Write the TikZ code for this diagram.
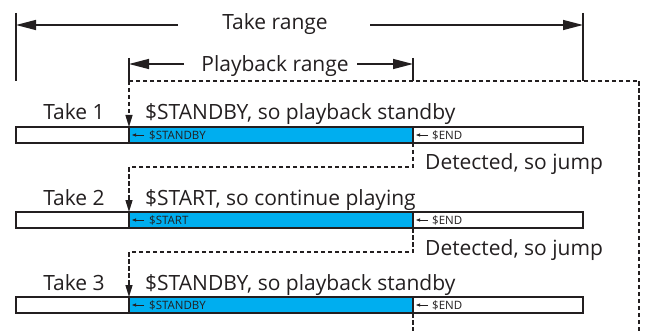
\documentclass[tikz,border=0pt]{standalone}
\usepackage{fontspec}
\setmainfont{Open Sans}
\usetikzlibrary{arrows.meta}
\definecolor{ink}{HTML}{231F20}
\definecolor{cyanbar}{HTML}{00AEEF}
\tikzset{
  big/.style={font=\fontsize{21}{24}\selectfont, text=ink, inner sep=0pt},
  small/.style={font=\fontsize{11.5}{13}\selectfont, text=ink, inner sep=0pt},
  rangearrow/.style={draw=ink, line width=1.4pt, -{Triangle[length=20pt,width=10pt]}},
  tick/.style={draw=ink, line width=1.4pt},
  jump/.style={draw=ink, line width=1.3pt, dash pattern=on 4.5pt off 2.5pt},
  jumparrow/.style={jump, -{Triangle[length=12pt,width=7pt]}},
  barwhite/.style={draw=ink, line width=1.4pt, fill=white},
  barblue/.style={draw=ink, line width=1.4pt, fill=cyanbar},
  minia/.style={draw=ink, line width=0.7pt, -{Triangle[length=4pt,width=3pt]}}
}
\begin{document}
\begin{tikzpicture}[x=1pt,y=-1pt]
\useasboundingbox (0,0) rectangle (647,331);
% ranges
\coordinate (tl1) at (16,13); \coordinate (tl2) at (16,81);
\coordinate (tr1) at (583,13); \coordinate (tr2) at (583,81);
\coordinate (pl1) at (129,58); \coordinate (pl2) at (129,81);
\coordinate (pr1) at (413,58); \coordinate (pr2) at (413,81);
\draw[tick] (tl1) -- (tl2);
\draw[tick] (tr1) -- (tr2);
\draw[tick] (pl1) -- (pl2);
\draw[tick] (pr1) -- (pr2);
\node[big,anchor=base] (take) at (275,30) {Take range};
\node[big,anchor=base] (play) at (275,72) {Playback range};
\coordinate (tA) at (16,25); \coordinate (tB) at (583,25);
\coordinate (pA) at (129,64); \coordinate (pB) at (413,64);
\draw[rangearrow] (178,25) -- (tA);
\draw[rangearrow] (370,25) -- (tB);
\draw[rangearrow] (184,64) -- (pA);
\draw[rangearrow] (357,64) -- (pB);
% bars
\foreach \i/\y/\lab in {1/127/\$STANDBY,2/212/\$START,3/297/\$STANDBY}{
  \draw[barwhite] (16,\y) rectangle (583,\y+16);
  \draw[barblue] (129,\y) rectangle (413,\y+16);
  \coordinate (bs\i) at (129,\y);
  \coordinate (be\i) at (413,\y+16);
  \draw[minia] (144,\y+8) -- (132,\y+8);
  \node[small,anchor=base west] at (149,\y+12.5) {\lab};
  \draw[minia] (428,\y+8) -- (416,\y+8);
  \node[small,anchor=base west] at (432,\y+12.5) {\$END};
}
% labels
\node[big,anchor=base] (t1) at (74,120) {Take 1};
\node[big,anchor=base] (t2) at (74,205) {Take 2};
\node[big,anchor=base] (t3) at (74,290) {Take 3};
\node[big,anchor=base west] (s1) at (145,120) {\$STANDBY, so playback standby};
\node[big,anchor=base west] (s2) at (145,205) {\$START, so continue playing};
\node[big,anchor=base west] (s3) at (145,290) {\$STANDBY, so playback standby};
\node[big,anchor=base west] (d1) at (425,170) {Detected, so jump};
\node[big,anchor=base west] (d2) at (425,255) {Detected, so jump};
% jumps
\coordinate (bot) at (639,331);
\coordinate (bot3) at (413,331);
\draw[jump] (bot) -- (639,81) -- (pl2);
\draw[jumparrow] (pl2) -- (bs1);
\draw[jumparrow] (be1) -- (413,167) -- (129,167) -- (bs2);
\draw[jumparrow] (be2) -- (413,252) -- (129,252) -- (bs3);
\draw[jump] (be3) -- (bot3);
\end{tikzpicture}
\end{document}
